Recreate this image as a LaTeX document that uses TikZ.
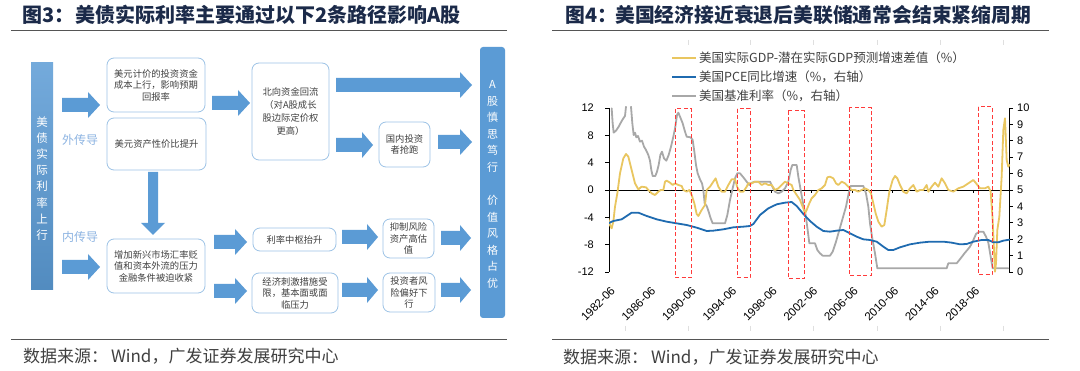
\documentclass[tikz,border=0pt]{standalone}
\usepackage{fontspec}
\setmainfont{Liberation Sans}
\newfontfamily\cjk{Noto Sans CJK SC}
\definecolor{arrowc}{HTML}{5B9BD5}
\definecolor{boxc}{HTML}{9DC3E6}
\definecolor{titlec}{HTML}{1B2A49}
\definecolor{txtc}{HTML}{404040}
\definecolor{ltblue}{HTML}{8DB4E2}
\definecolor{gold}{HTML}{E9C660}
\definecolor{pceblue}{HTML}{1F6BB0}
\definecolor{rategray}{HTML}{A8A8A8}
\definecolor{redd}{HTML}{FF3B3B}
\definecolor{rulec}{HTML}{555555}
\newcommand\hblk[4]{\fill[arrowc] (#1,#3-7) -- (#4,#3-7) -- (#4,#3-13) -- (#2,#3) -- (#4,#3+13) -- (#4,#3+7) -- (#1,#3+7) -- cycle;}
\tikzset{
  tbox/.style={draw=boxc, line width=0.8pt, rounded corners=7pt, fill=white, align=center,
    font=\cjk\fontsize{9.3}{11.5}\selectfont, text=txtc, inner sep=0pt},
  ttl/.style={anchor=west, inner sep=0pt, text=titlec, font=\cjk\bfseries\fontsize{20}{20}\selectfont},
  src/.style={anchor=west, inner sep=0pt, text=txtc, font=\cjk\fontsize{17}{17}\selectfont},
  vtxt/.style={align=center, text=white, inner sep=0pt},
  lgd/.style={anchor=west, inner sep=0pt, text=txtc, font=\cjk\fontsize{12.5}{12.5}\selectfont},
  axl/.style={inner sep=0pt, text=black, font=\fontsize{11}{11}\selectfont},
  dl/.style={inner sep=0pt, text=black, font=\fontsize{11.5}{11.5}\selectfont, rotate=45, anchor=east},
  rbox/.style={draw=redd, line width=1pt, dash pattern=on 4pt off 2.5pt},
  dline/.style={line width=1.8pt, line join=round, line cap=round}
}
\begin{document}
\begin{tikzpicture}[x=1pt,y=-1pt]
\useasboundingbox (0,0) rectangle (1080,371);
\fill[white] (0,0) rectangle (1080,371);

%================ LEFT PANEL =================
\node[ttl] (t3a) at (22,15) {图3：};
\node[ttl] (t3) at (75,15) {美债实际利率主要通过以下2条路径影响A股};
\draw[rulec, line width=0.8pt] (11,30) -- (507,30);
\draw[rulec, line width=0.8pt] (11,339) -- (507,339);
\node[src] (s3) at (23,356) {数据来源：\,Wind，广发证券发展研究中心};

% left bar
\shade[top color=arrowc!85!white, bottom color=arrowc!90!black] (31,63) rectangle (53,290);
\node[vtxt, font=\cjk\fontsize{11.5}{16.1}\selectfont] (lbar) at (42,178.5) {美\\债\\实\\际\\利\\率\\上\\行};
\node[inner sep=0pt, text=ltblue, font=\cjk\fontsize{12}{12}\selectfont] (w1) at (80,140) {外传导};
\node[inner sep=0pt, text=ltblue, font=\cjk\fontsize{12}{12}\selectfont] (w2) at (80,237) {内传导};

% right bar
\node[fill=arrowc, rounded corners=3pt, minimum width=25pt, minimum height=271pt, inner sep=0pt] (rbar) at (492.5,182.5) {};
\node[vtxt, font=\cjk\fontsize{11}{16.6}\selectfont] (rb1) at (492.5,126.5) {A\\股\\慎\\思\\笃\\行};
\node[vtxt, font=\cjk\fontsize{11}{16.5}\selectfont] (rb2) at (492.5,242) {价\\值\\风\\格\\占\\优};

% boxes
\node[tbox, minimum width=98pt, minimum height=54pt] (b1) at (156,85) {美元计价的投资资金\\成本上行，影响预期\\回报率};
\node[tbox, minimum width=99pt, minimum height=52pt] (b2) at (156.5,144) {美元资产性价比提升};
\node[tbox, minimum width=98pt, minimum height=54pt] (b3) at (156,266) {增加新兴市场汇率贬\\值和资本外流的压力\\金融条件被迫收紧};
\node[tbox, minimum width=77pt, minimum height=97pt, font=\cjk\fontsize{9.3}{13}\selectfont] (b4) at (290.5,111.5) {北向资金回流\\（对A股成长\\股边际定价权\\更高）};
\node[tbox, minimum width=51pt, minimum height=45pt] (b5) at (404.5,144.5) {国内投资\\者抢跑};
\node[tbox, minimum width=83pt, minimum height=23pt] (b6) at (294.5,239.5) {利率中枢抬升};
\node[tbox, minimum width=51pt, minimum height=39pt] (b7) at (408.5,238.5) {抑制风险\\资产高估\\值};
\node[tbox, minimum width=86pt, minimum height=40pt] (b8) at (295,293) {经济刺激措施受\\限，基本面或面\\临压力};
\node[tbox, minimum width=52pt, minimum height=39pt] (b9) at (409,292.5) {投资者风\\险偏好下\\行};

% block arrows
\hblk{62}{100}{105}{88}
\hblk{62}{100}{267}{88}
\hblk{212}{250}{103}{238}
\hblk{336}{472}{85}{460}
\hblk{336}{373}{145}{362}
\hblk{438}{472}{142}{460}
\hblk{214}{247}{242}{235}
\hblk{214}{247}{291}{235}
\hblk{342}{378}{237}{367}
\hblk{342}{378}{290}{367}
\hblk{441}{471}{238}{460}
\hblk{441}{471}{290}{460}
\fill[arrowc] (148,172) -- (158,172) -- (158,223) -- (165,223) -- (153,235) -- (141,223) -- (148,223) -- cycle;

%================ RIGHT PANEL =================
\node[ttl, font=\cjk\bfseries\fontsize{19.8}{19.8}\selectfont] (t4a) at (565,15) {图4：};
\node[ttl, font=\cjk\bfseries\fontsize{19.8}{19.8}\selectfont] (t4) at (615,15) {美国经济接近衰退后美联储通常会结束紧缩周期};
\draw[rulec, line width=0.8pt] (552,30) -- (1049,30);
\draw[rulec, line width=0.8pt] (552,339) -- (1049,339);
\node[src] (s4) at (563,357) {数据来源：\,Wind，广发证券发展研究中心};

% faint grid remnants
\foreach \xx in {688,750,813,877,940,1003} \draw[gray!25, line width=0.6pt] (\xx,40) -- (\xx,45);
\foreach \xx in {625,688,750,813,877,940,1003} \draw[gray!25, line width=0.6pt] (\xx,326) -- (\xx,331);

% legend
\draw[gold, line width=2pt] (672,58) -- (696,58);
\node[lgd] (l1) at (699,58) {美国实际GDP-潜在实际GDP预测增速差值（\%）};
\draw[pceblue, line width=2pt] (672,77) -- (696,77);
\node[lgd] (l2) at (699,77) {美国PCE同比增速（\%，右轴）};
\draw[rategray, line width=2pt] (672,96) -- (696,96);
\node[lgd] (l3) at (699,96) {美国基准利率（\%，右轴）};

% axes
\draw[black, line width=0.8pt] (609,108) -- (609,272);
\draw[black, line width=0.8pt] (1009,108) -- (1009,272);
\draw[black, line width=0.8pt] (609,190) -- (1009,190);
\foreach \v [count=\i from 0] in {12,8,4,0,-4,-8,-12} {
  \draw[black, line width=0.8pt] (605,108+\i*27.333) -- (609,108+\i*27.333);
  \node[axl, anchor=east] at (594,108+\i*27.333) {\v};
}
\foreach \v in {0,...,10} {
  \draw[black, line width=0.8pt] (1009,272-\v*16.4) -- (1013,272-\v*16.4);
  \node[axl, anchor=west] at (1017,272-\v*16.4) {\v};
}
\foreach \k [evaluate=\k as \xk using 609+\k*40.5] in {1,...,9} \draw[black, line width=0.6pt] (\xk,190) -- (\xk,193);
\foreach \lab [count=\k from 0] in {1982-06,1986-06,1990-06,1994-06,1998-06,2002-06,2006-06,2010-06,2014-06,2018-06} {
  \node[dl] at (613+\k*40.5,289) {\lab};
}

% data
\begin{scope}
\clip (609,107) rectangle (1010,273);
\begin{scope}[shift={(540,90)}, scale=1/3]
\draw[rategray, dline] (215,55) -- (218,100) -- (221,128) -- (228,122) -- (236,110) -- (244,95) -- (250,85) -- (255,78) -- (258,50);
\draw[rategray, dline] (273,50) -- (277,100) -- (281,135) -- (285,128) -- (289,142) -- (294,138) -- (300,155) -- (306,152) -- (312,170) -- (318,180) -- (325,195) -- (330,212) -- (334,240) -- (338,258) -- (346,258) -- (351,245) -- (356,225) -- (361,195) -- (366,185) -- (372,205) -- (379,212) -- (386,195) -- (393,170) -- (400,140) -- (406,110) -- (411,75) -- (415,68) -- (420,80) -- (428,100) -- (435,125) -- (440,140) -- (452,142) -- (458,150) -- (463,185) -- (468,225) -- (473,250) -- (480,268) -- (486,280) -- (490,300) -- (494,340) -- (500,348) -- (505,362) -- (512,385) -- (518,400) -- (555,400) -- (562,375) -- (570,330) -- (578,295) -- (585,265) -- (592,250) -- (600,250) -- (610,262) -- (620,275) -- (628,285) -- (636,278) -- (645,275) -- (690,275) -- (697,290) -- (705,305) -- (715,310) -- (725,305) -- (735,295) -- (745,275) -- (752,240) -- (757,225) -- (770,225) -- (775,260) -- (782,300) -- (790,345) -- (797,375) -- (803,420) -- (808,460) -- (825,460) -- (832,480) -- (840,490) -- (848,497) -- (870,497) -- (878,485) -- (888,455) -- (898,420) -- (908,385) -- (918,350) -- (926,310) -- (932,288) -- (970,288) -- (978,310) -- (985,350) -- (990,400) -- (996,440) -- (1005,490) -- (1012,535) -- (1220,535) -- (1225,520) -- (1250,520) -- (1262,505) -- (1275,488) -- (1282,480) -- (1290,470) -- (1298,455) -- (1308,432) -- (1318,425) -- (1330,425) -- (1338,440) -- (1345,458) -- (1352,500) -- (1358,535) -- (1405,535);
\draw[gold, dline] (205,385) -- (210,405) -- (215,415) -- (220,395) -- (225,350) -- (232,310) -- (240,250) -- (250,205) -- (258,192) -- (265,200) -- (275,240) -- (285,280) -- (295,298) -- (305,290) -- (318,292) -- (325,300) -- (335,310) -- (345,315) -- (355,305) -- (362,300) -- (370,300) -- (375,275) -- (380,272) -- (390,278) -- (398,285) -- (405,280) -- (415,285) -- (425,288) -- (430,300) -- (440,305) -- (448,300) -- (455,315) -- (463,340) -- (470,372) -- (475,378) -- (485,360) -- (495,345) -- (500,300) -- (510,290) -- (520,275) -- (527,265) -- (535,290) -- (545,305) -- (555,305) -- (565,285) -- (575,268) -- (585,268) -- (592,292) -- (600,305) -- (610,305) -- (620,290) -- (625,280) -- (635,280) -- (645,275) -- (655,275) -- (665,285) -- (675,280) -- (685,285) -- (695,285) -- (705,300) -- (715,295) -- (725,285) -- (735,275) -- (745,280) -- (755,285) -- (760,300) -- (770,315) -- (780,330) -- (790,355) -- (795,370) -- (800,360) -- (808,340) -- (815,325) -- (825,315) -- (835,300) -- (845,295) -- (855,285) -- (862,262) -- (870,260) -- (880,265) -- (888,280) -- (895,285) -- (905,275) -- (915,280) -- (925,290) -- (935,300) -- (945,300) -- (955,305) -- (965,300) -- (975,295) -- (985,300) -- (993,310) -- (1000,340) -- (1007,370) -- (1015,395) -- (1025,410) -- (1033,405) -- (1040,360) -- (1048,305) -- (1058,270) -- (1065,258) -- (1072,265) -- (1080,285) -- (1090,305) -- (1100,310) -- (1110,295) -- (1120,285) -- (1130,305) -- (1140,300) -- (1150,300) -- (1160,285) -- (1165,305) -- (1175,290) -- (1185,278) -- (1195,290) -- (1205,265) -- (1215,280) -- (1225,300) -- (1240,305) -- (1255,295) -- (1270,290) -- (1285,280) -- (1300,270) -- (1310,282) -- (1320,295) -- (1335,295) -- (1345,290) -- (1352,305) -- (1358,390) -- (1362,480) -- (1365,545) -- (1368,520) -- (1372,420) -- (1378,380) -- (1385,260) -- (1390,120) -- (1395,85) -- (1400,210) -- (1405,230) -- (1408,225);
\draw[pceblue, dline] (205,400) -- (220,393) -- (245,388) -- (260,378) -- (275,368) -- (295,368) -- (320,378) -- (350,388) -- (380,395) -- (410,400) -- (440,405) -- (470,413) -- (500,423) -- (520,422) -- (550,418) -- (580,412) -- (610,410) -- (630,408) -- (640,402) -- (660,375) -- (685,355) -- (710,343) -- (735,338) -- (755,336) -- (770,348) -- (790,372) -- (810,393) -- (830,410) -- (850,423) -- (870,425) -- (890,422) -- (910,420) -- (930,430) -- (950,440) -- (970,448) -- (990,450) -- (1010,455) -- (1030,470) -- (1045,480) -- (1060,480) -- (1080,472) -- (1110,463) -- (1140,458) -- (1170,455) -- (1210,455) -- (1235,458) -- (1260,463) -- (1280,462) -- (1300,455) -- (1325,450) -- (1345,450) -- (1360,457) -- (1375,457) -- (1390,452) -- (1408,449);
\end{scope}
\end{scope}

% red dashed boxes
\draw[rbox] (675,109) rectangle (691,278);
\draw[rbox] (737,109) rectangle (750,278);
\draw[rbox] (788,111) rectangle (804,279);
\draw[rbox] (849,108) rectangle (871,276);
\draw[rbox] (978,107) rectangle (992,275);
\end{tikzpicture}
\end{document}
